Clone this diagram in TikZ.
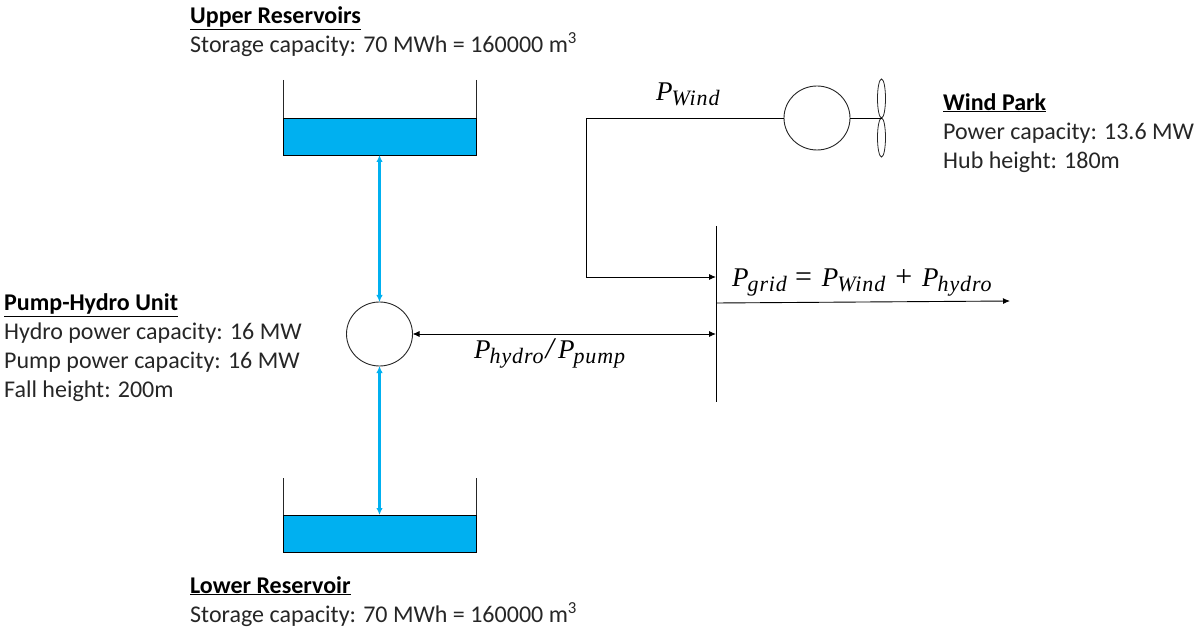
\documentclass[tikz,border=0pt]{standalone}
\usepackage{fontspec}
\setmainfont{Carlito}
\newfontfamily\mathmain{Liberation Serif}[Ligatures=TeX]
\newfontfamily\mathsubs{Liberation Serif}[LetterSpace=4]
\newcommand{\Pv}[1]{{\fontsize{27}{30}\selectfont\mathmain\itshape P}\kern-1pt\raisebox{-5pt}{\fontsize{22}{24}\selectfont\mathsubs\itshape #1}}
\newcommand{\Op}[1]{{\fontsize{30}{30}\selectfont\mathmain #1}}
\newcommand{\Head}[1]{{\color{black}\textbf{\underline{#1}}}}
\usetikzlibrary{shapes.geometric,arrows.meta}
\definecolor{water}{HTML}{00B0F0}
\definecolor{ink}{HTML}{262626}
\tikzset{
  x=1pt,y=-1pt,
  lbl/.style={anchor=north west,inner sep=0pt,align=left,font=\fontsize{24}{29}\selectfont,text=ink},
  mth/.style={inner sep=0pt,text=black},
  wire/.style={draw=black,line width=0.9pt},
  pow/.style={wire,-{Latex[length=7pt,width=6pt]}},
  powb/.style={wire,{Latex[length=7pt,width=6pt]}-{Latex[length=7pt,width=6pt]}},
  flow/.style={draw=water,line width=2.02pt,xshift=0.3pt,{Latex[length=7pt,width=6.5pt]}-{Latex[length=7pt,width=6.5pt]}},
  tank/.style={draw=black,line width=0.9pt,fill=water,minimum width=193pt,minimum height=37pt,inner sep=0pt,outer sep=0pt},
  mach/.style={ellipse,draw=ink,line width=0.9pt,fill=white,minimum width=66pt,minimum height=64pt,inner sep=0pt,outer sep=0pt},
  blade/.style={ellipse,draw=ink,line width=0.8pt,minimum width=8pt,minimum height=39pt,inner sep=0pt,outer sep=0pt},
  wall/.style={draw=ink,line width=0.9pt}
}
\begin{document}
\begin{tikzpicture}
\useasboundingbox (0,0) rectangle (1197,628);
% reservoirs
\node[tank] (upper) at (379.5,136.5) {};
\node[tank] (lower) at (379.5,533.5) {};
\coordinate (ulw) at (283,80); \coordinate (urw) at (476,80);
\coordinate (llw) at (283,478); \coordinate (lrw) at (476,478);
\draw[wall] (ulw) -- (upper.north west);
\draw[wall] (urw) -- (upper.north east);
\draw[wall] (llw) -- (lower.north west);
\draw[wall] (lrw) -- (lower.north east);
% machines
\node[mach] (pump) at (379.5,334) {};
\node[mach] (gen) at (817,118) {};
\node[blade] (b1) at (881.5,98.5) {};
\node[blade] (b2) at (881.5,137.5) {};
\coordinate (hub) at (881.5,118);
\draw[wire] (gen.east) -- (hub);
% blue flows
\draw[flow] (upper.south) -- (pump.north);
\draw[flow] (pump.south) -- (lower.north);
% bus and wires
\coordinate (bt) at (716,226); \coordinate (bb) at (716,402);
\draw[wire] (bt) -- (bb);
\coordinate (corner1) at (586,118); \coordinate (corner2) at (586,277);
\coordinate (bw) at (716,277); \coordinate (bh) at (716,334);
\coordinate (bg) at (716,303); \coordinate (gridend) at (1010,301);
\draw[pow] (gen.west) -- (corner1) -- (corner2) -- (bw);
\draw[powb] (pump.east) -- (bh);
\draw[pow] (bg) -- (gridend);
% math labels
\node[mth,anchor=base west] (lw) at (656,101) {\Pv{Wind}};
\node[mth,anchor=base west] (lg) at (732,287) {\Pv{grid}\kern8pt\Op{=}\kern10pt\Pv{Wind}\kern10pt\Op{+}\kern10pt\Pv{hydro}};
\node[mth,anchor=base west] (lh) at (474,359) {\Pv{hydro}\kern2pt\Op{\itshape /}\kern4pt\Pv{pump}};
% text
\node[lbl] (t1) at (190,6.5) {\Head{Upper Reservoirs}\\Storage capacity: 70 MWh = 160000 m\textsuperscript{3}};
\node[lbl] (t2) at (190,576) {\Head{Lower Reservoir}\\Storage capacity: 70 MWh = 160000 m\textsuperscript{3}};
\node[lbl] (t3) at (943,93) {\Head{Wind Park}\\Power capacity: 13.6 MW\\Hub height: 180m};
\node[lbl] (t4) at (4,293.5) {\Head{Pump-Hydro Unit}\\Hydro power capacity: 16 MW\\Pump power capacity: 16 MW\\Fall height: 200m};
\end{tikzpicture}
\end{document}
